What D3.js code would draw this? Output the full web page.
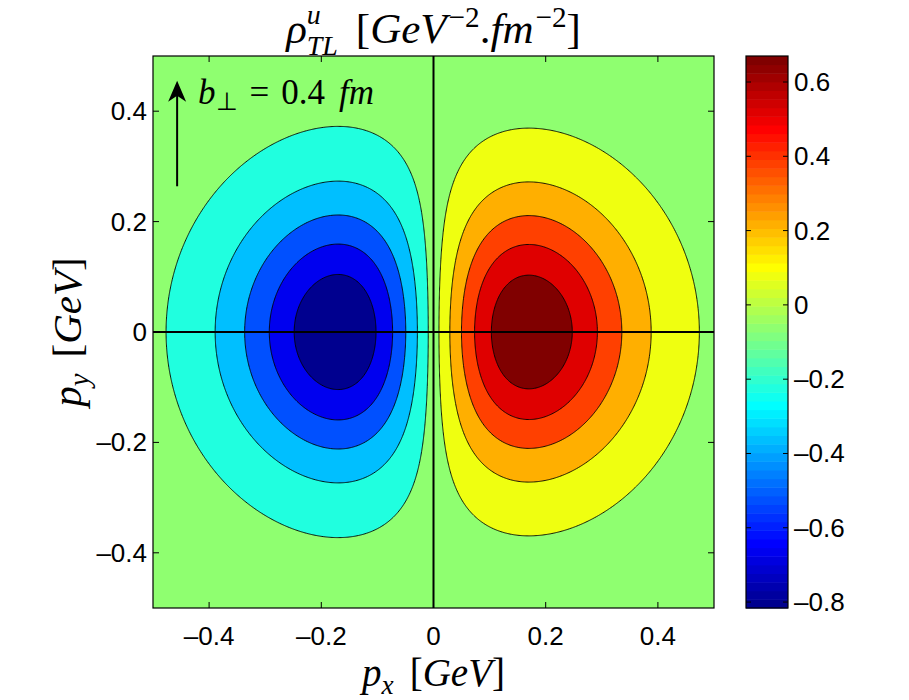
<!DOCTYPE html>
<html>
<head>
<meta charset="utf-8">
<script src="https://cdn.jsdelivr.net/npm/d3@7"></script>
<style>
  body { margin: 0; background: #fff; }
  svg { display: block; }
</style>
</head>
<body>
<div id="chart"></div>
<script>
// values
const levels = [-0.667, -0.519, -0.370, -0.221, -0.073, 0.076, 0.224, 0.373, 0.521, 0.670];
const colorLimits = [-0.816, 0.670];
const xTicks = [-0.4, -0.2, 0, 0.2, 0.4];
const yTicks = [-0.4, -0.2, 0, 0.2, 0.4];
const colorTicks = [-0.8, -0.6, -0.4, -0.2, 0, 0.2, 0.4, 0.6];
// dipole shape of the density: peak value, peak position on p_x, gaussian width
const lobePeak = [0.805];
const lobeCenter = [0.17];
const lobeWidth = [0.17];
const arrowFrom = [-0.457, 0.264];
const arrowTo = [-0.457, 0.455];

const width = 909, height = 700;
const plot = { left: 153, right: 714, top: 56, bottom: 608 };
const cbar = { left: 746, right: 788 };
const serif = "'Liberation Serif', 'Times New Roman', serif";
const sans = "'Liberation Sans', Arial, Helvetica, sans-serif";

const svg = d3.select("#chart").append("svg")
  .attr("width", width).attr("height", height);

const x = d3.scaleLinear().domain([-0.5, 0.5]).range([plot.left, plot.right]);
const y = d3.scaleLinear().domain([-0.5, 0.5]).range([plot.bottom, plot.top]);
const yc = d3.scaleLinear().domain(colorLimits).range([plot.bottom, plot.top]);

// MATLAB jet(64)
function jet(n) {
  const m = Math.ceil(n / 4);
  const u = [];
  for (let i = 1; i <= m; i++) u.push(i / m);
  for (let i = 1; i < m; i++) u.push(1);
  for (let i = m; i >= 1; i--) u.push(i / m);
  const g0 = Math.ceil(m / 2) - (n % 4 === 1 ? 1 : 0);
  const cols = Array.from({ length: n }, () => [0, 0, 0]);
  u.forEach((v, k) => {
    const gi = g0 + k, ri = gi + m, bi = gi - m;
    if (gi >= 0 && gi < n) cols[gi][1] = v;
    if (ri >= 0 && ri < n) cols[ri][0] = v;
    if (bi >= 0 && bi < n) cols[bi][2] = v;
  });
  return cols.map(c => d3.rgb(c[0] * 255, c[1] * 255, c[2] * 255).formatHex());
}
const jetColors = jet(64);
function colorOf(v) {
  const t = (v - colorLimits[0]) / (colorLimits[1] - colorLimits[0]) + 1e-9;
  return jetColors[Math.max(0, Math.min(63, Math.floor(t * 64)))];
}

// sample the field on a grid
const n = 500;
const x0 = -0.505, x1 = 0.505;
const dx = (x1 - x0) / n;
const values = new Float64Array(n * n);
for (let j = 0; j < n; j++) {
  const py = x1 - (j + 0.5) * dx;
  for (let i = 0; i < n; i++) {
    const px = x0 + (i + 0.5) * dx;
    const s = lobeWidth[0];
    values[j * n + i] = lobePeak[0] * (px / lobeCenter[0]) *
      Math.exp(0.5 - (px * px + py * py) / (2 * s * s));
  }
}

const contours = d3.contours().size([n, n]).thresholds(levels)(values);
const path = d3.geoPath(d3.geoTransform({
  point(cx, cy) { this.stream.point(x(x0 + cx * dx), y(x1 - cy * dx)); }
}));

svg.append("defs").append("clipPath").attr("id", "clip")
  .append("rect")
  .attr("x", plot.left).attr("y", plot.top)
  .attr("width", plot.right - plot.left).attr("height", plot.bottom - plot.top);

const area = svg.append("g").attr("clip-path", "url(#clip)");
area.append("rect")
  .attr("x", plot.left).attr("y", plot.top)
  .attr("width", plot.right - plot.left).attr("height", plot.bottom - plot.top)
  .attr("fill", colorOf(colorLimits[0]));

area.selectAll("path.band")
  .data(contours)
  .join("path")
  .attr("class", "band")
  .attr("d", path)
  .attr("fill", d => colorOf(d.value))
  .attr("stroke", "#000")
  .attr("stroke-width", 0.9);

// axis lines through the origin
area.append("line")
  .attr("x1", plot.left).attr("x2", plot.right)
  .attr("y1", y(0)).attr("y2", y(0))
  .attr("stroke", "#000").attr("stroke-width", 2);
area.append("line")
  .attr("x1", x(0)).attr("x2", x(0))
  .attr("y1", plot.top).attr("y2", plot.bottom)
  .attr("stroke", "#000").attr("stroke-width", 2);

// frame and ticks
const tickLen = 6;
const axes = svg.append("g").attr("stroke", "#000").attr("stroke-width", 1);
xTicks.forEach(t => {
  axes.append("line").attr("x1", x(t)).attr("x2", x(t)).attr("y1", plot.bottom).attr("y2", plot.bottom - tickLen);
  axes.append("line").attr("x1", x(t)).attr("x2", x(t)).attr("y1", plot.top).attr("y2", plot.top + tickLen);
});
yTicks.forEach(t => {
  axes.append("line").attr("x1", plot.left).attr("x2", plot.left + tickLen).attr("y1", y(t)).attr("y2", y(t));
  axes.append("line").attr("x1", plot.right).attr("x2", plot.right - tickLen).attr("y1", y(t)).attr("y2", y(t));
});
svg.append("rect")
  .attr("x", plot.left).attr("y", plot.top)
  .attr("width", plot.right - plot.left).attr("height", plot.bottom - plot.top)
  .attr("fill", "none").attr("stroke", "#000").attr("stroke-width", 1.2);

const fmt = v => (v < 0 ? "\u2013" : "") + (Math.abs(v) < 1e-9 ? "0" : String(Math.abs(v)));
svg.append("g").selectAll("text").data(xTicks).join("text")
  .attr("x", d => x(d)).attr("y", 645)
  .attr("text-anchor", "middle")
  .attr("font-family", sans).attr("font-size", 26)
  .text(fmt);
svg.append("g").selectAll("text").data(yTicks).join("text")
  .attr("x", plot.left - 6).attr("y", d => y(d) + 9)
  .attr("text-anchor", "end")
  .attr("font-family", sans).attr("font-size", 26)
  .text(fmt);

// colorbar
const step = (colorLimits[1] - colorLimits[0]) / jetColors.length;
svg.append("g").selectAll("rect").data(jetColors).join("rect")
  .attr("x", cbar.left)
  .attr("y", (d, i) => yc(colorLimits[0] + (i + 1) * step))
  .attr("width", cbar.right - cbar.left)
  .attr("height", (d, i) => yc(colorLimits[0] + i * step) - yc(colorLimits[0] + (i + 1) * step) + 0.5)
  .attr("fill", d => d);
const cax = svg.append("g").attr("stroke", "#000").attr("stroke-width", 1);
colorTicks.forEach(t => {
  cax.append("line").attr("x1", cbar.left).attr("x2", cbar.left + 5).attr("y1", yc(t)).attr("y2", yc(t));
  cax.append("line").attr("x1", cbar.right).attr("x2", cbar.right - 5).attr("y1", yc(t)).attr("y2", yc(t));
});
svg.append("rect")
  .attr("x", cbar.left).attr("y", plot.top)
  .attr("width", cbar.right - cbar.left).attr("height", plot.bottom - plot.top)
  .attr("fill", "none").attr("stroke", "#000").attr("stroke-width", 1.2);
svg.append("g").selectAll("text").data(colorTicks).join("text")
  .attr("x", cbar.right + 6).attr("y", d => yc(d) + 9)
  .attr("font-family", sans).attr("font-size", 26)
  .text(fmt);

// math-like labels built from pieces
function mathText(parent, pieces, size) {
  const g = parent.append("g");
  let cur = 0, lastX = 0;
  pieces.forEach(p => {
    if (p.gap) { cur += p.gap; return; }
    const x0p = p.stack ? lastX : cur;
    const t = g.append("text")
      .attr("x", x0p).attr("y", p.dy || 0)
      .attr("font-family", serif)
      .attr("font-size", size * (p.s || 1))
      .attr("font-style", p.it ? "italic" : "normal")
      .text(p.t);
    const w = t.node().getComputedTextLength();
    if (p.stack) cur = Math.max(cur, x0p + w);
    else { lastX = x0p; cur = x0p + w; }
  });
  return { g, w: cur };
}

const title = mathText(svg, [
  { t: "\u03c1", it: true }, { t: "u", it: true, s: 0.65, dy: -19 }, { t: "TL", it: true, s: 0.65, dy: 12, stack: true },
  { gap: 18 }, { t: "[" }, { t: "GeV", it: true }, { gap: 2 }, { t: "\u22122", s: 0.68, dy: -16 }, { t: "." },
  { t: "fm", it: true }, { gap: 2 }, { t: "\u22122", s: 0.68, dy: -16 }, { t: "]" }
], 43);
title.g.attr("transform", `translate(${x(0) - title.w / 2},43)`);

const xlab = mathText(svg, [
  { t: "p", it: true }, { t: "x", it: true, s: 0.7, dy: 8 }, { gap: 16 },
  { t: "[" }, { t: "GeV", it: true }, { t: "]" }
], 39);
xlab.g.attr("transform", `translate(${x(0) - xlab.w / 2},686)`);

const ylab = mathText(svg, [
  { t: "p", it: true }, { t: "y", it: true, s: 0.7, dy: 8 }, { gap: 16 },
  { t: "[" }, { t: "GeV", it: true }, { t: "]" }
], 41);
ylab.g.attr("transform", `translate(81,${y(0)}) rotate(-90) translate(${-ylab.w / 2},0)`);

const note = mathText(svg, [
  { t: "b", it: true }, { t: "\u22a5", s: 0.7, dy: 6 }, { gap: 12 }, { t: "=" }, { gap: 12 },
  { t: "0.4" }, { gap: 14 }, { t: "fm", it: true }
], 35);
note.g.attr("transform", `translate(198,104)`);

// arrow
const ax = x(arrowFrom[0]), ayb = y(arrowFrom[1]), ayt = y(arrowTo[1]);
svg.append("line")
  .attr("x1", ax).attr("x2", ax).attr("y1", ayb).attr("y2", ayt + 12)
  .attr("stroke", "#000").attr("stroke-width", 2);
svg.append("path")
  .attr("d", `M${ax},${ayt} L${ax - 9},${ayt + 21} L${ax},${ayt + 15} L${ax + 9},${ayt + 21} Z`)
  .attr("fill", "#000");
</script>
</body>
</html>
